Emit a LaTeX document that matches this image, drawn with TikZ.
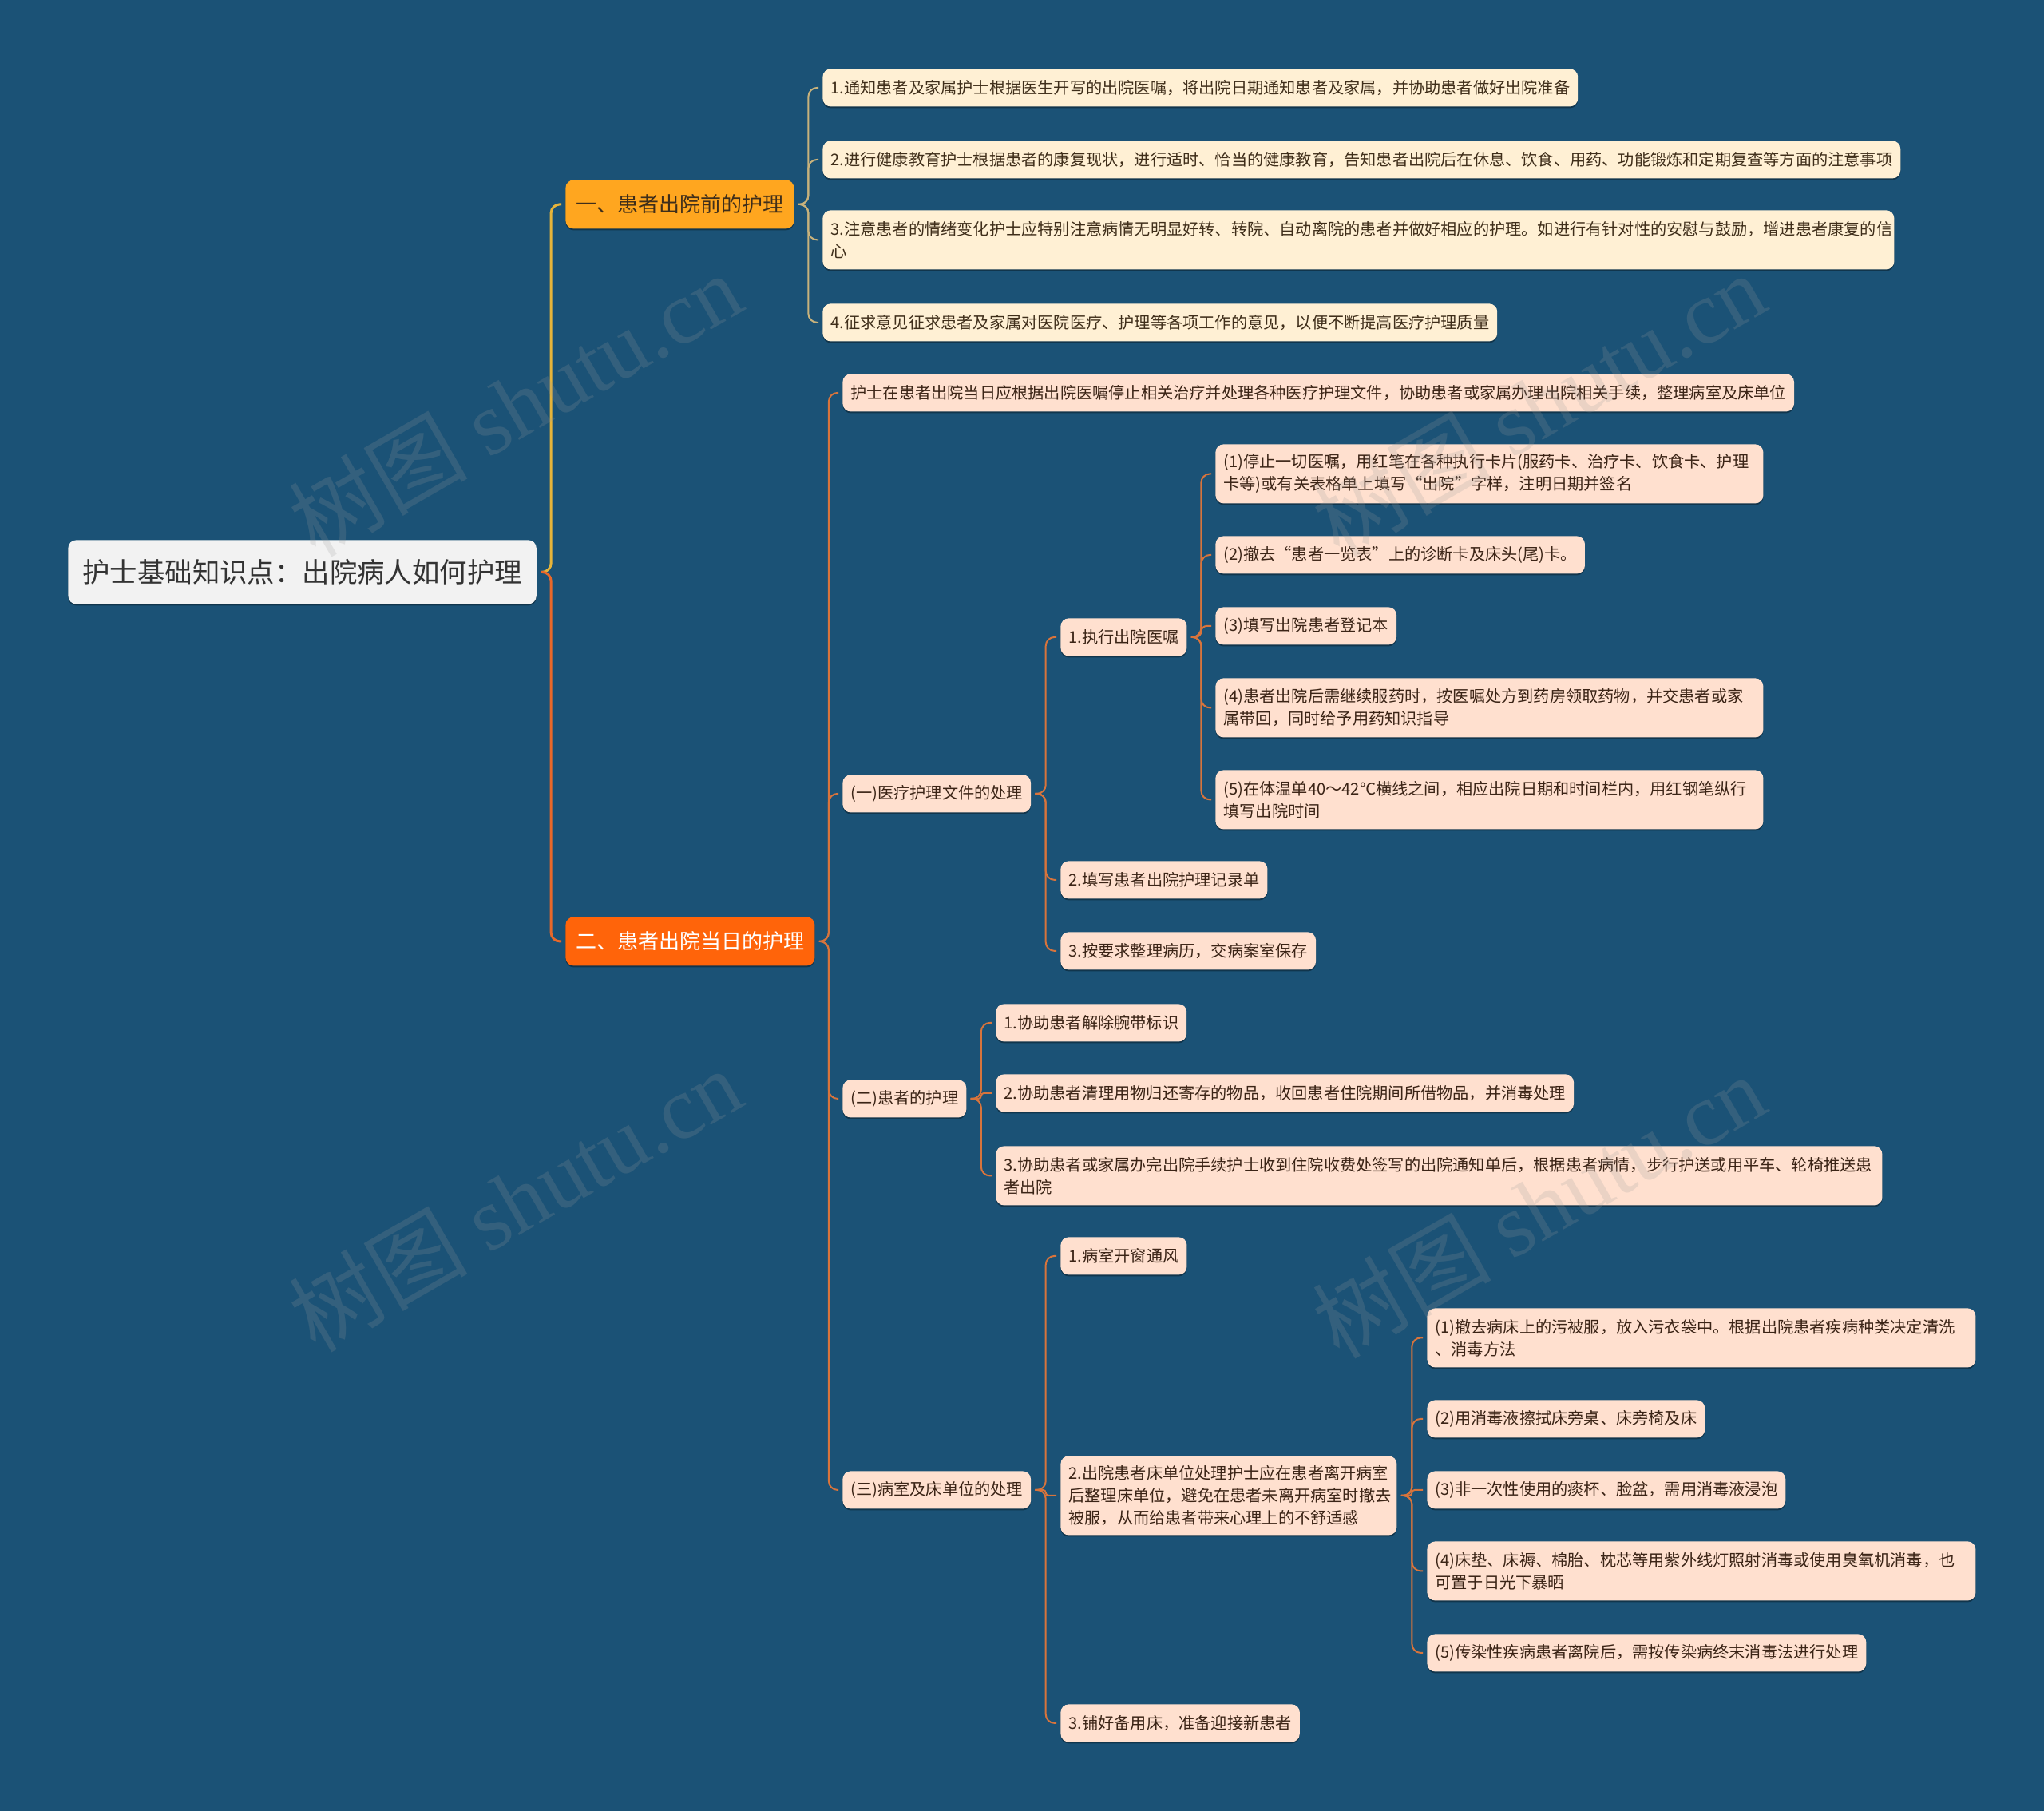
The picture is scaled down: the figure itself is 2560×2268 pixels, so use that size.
\documentclass[tikz,border=0pt]{standalone}
\usepackage{fontspec}
\setmainfont{Noto Sans CJK SC}
\newfontfamily\wmlatin{Liberation Serif}
\usetikzlibrary{calc,shadows}
\definecolor{bgc}{HTML}{1B5276}
\definecolor{rootfill}{HTML}{F2F2F2}
\definecolor{rootText}{HTML}{333333}
\definecolor{bAfill}{HTML}{FFA61F}
\definecolor{bBfill}{HTML}{FF640A}
\definecolor{leafAfill}{HTML}{FFF0D4}
\definecolor{leafBfill}{HTML}{FFE0CF}
\definecolor{txtA}{HTML}{3F2E1A}
\definecolor{txtB}{HTML}{3B2416}
\definecolor{lnkGold}{HTML}{E6B43A}
\definecolor{lnkKhaki}{HTML}{C8B27C}
\definecolor{lnkOrange}{HTML}{E8682A}
\definecolor{lnkB}{HTML}{D8743C}
\definecolor{wmc}{HTML}{9A9A9A}
\tikzset{
  shade/.style={drop shadow={shadow xshift=0pt,shadow yshift=-1pt,opacity=0.35,fill=black}},
  base/.style={anchor=north west, rounded corners=5pt, align=left, inner xsep=5pt, inner ysep=0pt,
    font=\fontsize{10.1}{14}\selectfont, shade},
  ln1/.style={minimum height=23.5pt},
  ln2/.style={minimum height=37pt},
  ln3/.style={minimum height=49.5pt},
  leafA/.style={base, fill=leafAfill, text=txtA},
  leafB/.style={base, fill=leafBfill, text=txtB},
  rootbox/.style={anchor=north west, rounded corners=5pt, fill=rootfill, text=rootText, inner xsep=9pt,
    inner ysep=0pt, minimum height=40pt, font=\fontsize{17.2}{20}\selectfont, shade},
  branchA/.style={anchor=north west, rounded corners=5pt, fill=bAfill, text=txtA, inner xsep=6.5pt,
    inner ysep=0pt, minimum height=30.5pt, font=\fontsize{13}{16}\selectfont, shade},
  branchB/.style={anchor=north west, rounded corners=5pt, fill=bBfill, text=white, inner xsep=6.5pt,
    inner ysep=0pt, minimum height=30.5pt, font=\fontsize{13}{16}\selectfont, shade},
  topA/.style={draw=lnkGold, line width=1.5pt},
  topB/.style={draw=lnkOrange, line width=1.5pt},
  subA/.style={draw=lnkKhaki, line width=1pt},
  subB/.style={draw=lnkB, line width=1pt},
  wm/.style={text=wmc, opacity=0.2, rotate=30, font=\fontsize{56}{60}\selectfont}
}
\newcommand\lnk[3]{%
  \draw[#1] let \p1=($(#2.east)+(2.5pt,0)$), \p2=($(#3.west)+(-2.5pt,0)$),
    \n1={(\x1+\x2)/2}, \n2={min(5.5pt,abs(\y2-\y1)/2)} in
    (\p1) [rounded corners=\n2] -- (\n1,\y1) -- (\n1,\y2) -- (\p2);}
\begin{document}
\begin{tikzpicture}[x=0.5pt,y=-0.5pt]
\fill[bgc] (0,0) rectangle (2560,2268);
\useasboundingbox (0,0) rectangle (2560,2268);
% root and branches
\node[rootbox] (root) at (85,676) {护士基础知识点：出院病人如何护理};
\node[branchA] (b1) at (708,225) {一、患者出院前的护理};
\node[branchB] (b2) at (708,1148) {二、患者出院当日的护理};
% branch 1 leaves
\node[leafA,ln1] (a1) at (1030,86) {1.通知患者及家属护士根据医生开写的出院医嘱，将出院日期通知患者及家属，并协助患者做好出院准备};
\node[leafA,ln1] (a2) at (1030,176) {2.进行健康教育护士根据患者的康复现状，进行适时、恰当的健康教育，告知患者出院后在休息、饮食、用药、功能锻炼和定期复查等方面的注意事项};
\node[leafA,ln2,text width=661pt] (a3) at (1030,263) {3.注意患者的情绪变化护士应特别注意病情无明显好转、转院、自动离院的患者并做好相应的护理。如进行有针对性的安慰与鼓励，增进患者康复的信\\心};
\node[leafA,ln1] (a4) at (1030,380) {4.征求意见征求患者及家属对医院医疗、护理等各项工作的意见，以便不断提高医疗护理质量};
% branch 2
\node[leafB,ln1] (c0) at (1055,468) {护士在患者出院当日应根据出院医嘱停止相关治疗并处理各种医疗护理文件，协助患者或家属办理出院相关手续，整理病室及床单位};
\node[leafB,ln1] (c1) at (1055,970) {(一)医疗护理文件的处理};
\node[leafB,ln1] (c2) at (1055,1352) {(二)患者的护理};
\node[leafB,ln1] (c3) at (1055,1842) {(三)病室及床单位的处理};
\node[leafB,ln1] (d1) at (1328,774) {1.执行出院医嘱};
\node[leafB,ln1] (d2) at (1328,1078) {2.填写患者出院护理记录单};
\node[leafB,ln1] (d3) at (1328,1167) {3.按要求整理病历，交病案室保存};
\node[leafB,ln2,text width=333pt] (e1) at (1522,556) {(1)停止一切医嘱，用红笔在各种执行卡片(服药卡、治疗卡、饮食卡、护理\\卡等)或有关表格单上填写“出院”字样，注明日期并签名};
\node[leafB,ln1] (e2) at (1522,671) {(2)撤去“患者一览表”上的诊断卡及床头(尾)卡。};
\node[leafB,ln1] (e3) at (1522,760) {(3)填写出院患者登记本};
\node[leafB,ln2,text width=333pt] (e4) at (1522,849) {(4)患者出院后需继续服药时，按医嘱处方到药房领取药物，并交患者或家\\属带回，同时给予用药知识指导};
\node[leafB,ln2,text width=333pt] (e5) at (1522,964) {(5)在体温单40～42℃横线之间，相应出院日期和时间栏内，用红钢笔纵行\\填写出院时间};
\node[leafB,ln1] (f1) at (1247,1257) {1.协助患者解除腕带标识};
\node[leafB,ln1] (f2) at (1247,1345) {2.协助患者清理用物归还寄存的物品，收回患者住院期间所借物品，并消毒处理};
\node[leafB,ln2,text width=545pt] (f3) at (1247,1435) {3.协助患者或家属办完出院手续护士收到住院收费处签写的出院通知单后，根据患者病情，步行护送或用平车、轮椅推送患\\者出院};
\node[leafB,ln1] (g1) at (1328,1549) {1.病室开窗通风};
\node[leafB,ln3,text width=200.5pt] (g2) at (1328,1823) {2.出院患者床单位处理护士应在患者离开病室\\后整理床单位，避免在患者未离开病室时撤去\\被服，从而给患者带来心理上的不舒适感};
\node[leafB,ln1] (g3) at (1328,2134) {3.铺好备用床，准备迎接新患者};
\node[leafB,ln2,text width=333.5pt] (h1) at (1787,1638) {(1)撤去病床上的污被服，放入污衣袋中。根据出院患者疾病种类决定清洗\\、消毒方法};
\node[leafB,ln1] (h2) at (1787,1753) {(2)用消毒液擦拭床旁桌、床旁椅及床};
\node[leafB,ln1] (h3) at (1787,1842) {(3)非一次性使用的痰杯、脸盆，需用消毒液浸泡};
\node[leafB,ln2,text width=333.5pt] (h4) at (1787,1930) {(4)床垫、床褥、棉胎、枕芯等用紫外线灯照射消毒或使用臭氧机消毒，也\\可置于日光下暴晒};
\node[leafB,ln1] (h5) at (1787,2046) {(5)传染性疾病患者离院后，需按传染病终末消毒法进行处理};
% connectors
\lnk{topA}{root}{b1}
\lnk{topB}{root}{b2}
\foreach \c in {a1,a2,a3,a4} {\lnk{subA}{b1}{\c}}
\foreach \c in {c0,c1,c2,c3} {\lnk{subB}{b2}{\c}}
\foreach \c in {d1,d2,d3} {\lnk{subB}{c1}{\c}}
\foreach \c in {e1,e2,e3,e4,e5} {\lnk{subB}{d1}{\c}}
\foreach \c in {f1,f2,f3} {\lnk{subB}{c2}{\c}}
\foreach \c in {g1,g2,g3} {\lnk{subB}{c3}{\c}}
\foreach \c in {h1,h2,h3,h4,h5} {\lnk{subB}{g2}{\c}}
% watermarks
\node[wm] (w1) at (645,506) {树图 {\wmlatin shutu.cn}};
\node[wm] (w2) at (1927,506) {树图 {\wmlatin shutu.cn}};
\node[wm] (w3) at (645,1502) {树图 {\wmlatin shutu.cn}};
\node[wm] (w4) at (1927,1510) {树图 {\wmlatin shutu.cn}};
\end{tikzpicture}
\end{document}
